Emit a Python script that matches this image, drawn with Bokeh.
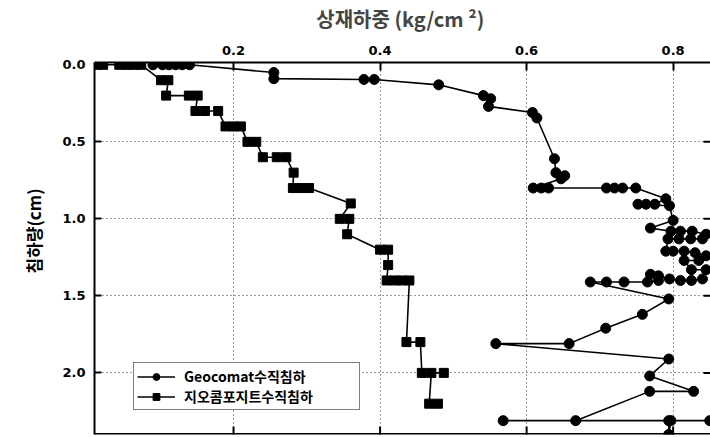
from bokeh.plotting import figure
from bokeh.models import Range1d, FixedTicker, Legend, LegendItem, NumeralTickFormatter, Span, Title
from bokeh.embed import file_html
from bokeh.resources import INLINE
import math

# Geocomat vertical settlement (load kg/cm2, settlement cm)
geo_load = [0.090, 0.103, 0.112, 0.121, 0.130, 0.140,
            0.255, 0.255, 0.378, 0.392, 0.480,
            0.541, 0.551, 0.548, 0.608, 0.614, 0.638,
            0.640, 0.652, 0.647,
            0.609, 0.620, 0.630, 0.709, 0.720, 0.731, 0.749,
            0.790, 0.775, 0.763, 0.752, 0.795,
            0.800, 0.769, 0.797, 0.810, 0.826, 0.845,
            0.840, 0.824, 0.808, 0.793,
            0.790, 0.800, 0.815, 0.830, 0.845,
            0.835, 0.815, 0.825, 0.845,
            0.840, 0.825, 0.810, 0.795, 0.780, 0.769, 0.780, 0.765,
            0.733, 0.709, 0.687,
            0.794, 0.758, 0.708, 0.658, 0.558,
            0.794, 0.768, 0.828, 0.768,
            0.667, 0.568, 0.794, 0.794, 0.797, 0.850]
geo_settle = [0.0, 0.0, 0.0, 0.0, 0.0, 0.0,
              0.05, 0.09, 0.095, 0.095, 0.13,
              0.20, 0.22, 0.27, 0.31, 0.345, 0.61,
              0.70, 0.72, 0.74,
              0.80, 0.80, 0.80, 0.80, 0.80, 0.80, 0.80,
              0.87, 0.905, 0.905, 0.905, 0.915,
              1.01, 1.06, 1.08, 1.08, 1.08, 1.10,
              1.13, 1.13, 1.13, 1.13,
              1.21, 1.21, 1.21, 1.22, 1.24,
              1.27, 1.27, 1.33, 1.33,
              1.39, 1.40, 1.40, 1.39, 1.37, 1.36, 1.40, 1.41,
              1.41, 1.41, 1.41,
              1.52, 1.62, 1.71, 1.81, 1.81,
              1.91, 2.02, 2.12, 2.12,
              2.31, 2.31, 2.31, 2.40, 2.31, 2.31]

# Geocomposite vertical settlement
comp_load = [0.014, 0.022, 0.044, 0.054, 0.064, 0.074,
             0.101, 0.111,
             0.108, 0.139, 0.151,
             0.148, 0.161, 0.179,
             0.189, 0.200, 0.210,
             0.219, 0.231,
             0.240, 0.259, 0.272,
             0.282,
             0.281, 0.292, 0.303,
             0.360,
             0.345, 0.358,
             0.355,
             0.400, 0.411,
             0.411,
             0.409, 0.420, 0.430, 0.440,
             0.436, 0.455,
             0.457, 0.487, 0.470,
             0.467, 0.479]
comp_settle = [0.0, 0.0, 0.0, 0.0, 0.0, 0.0,
               0.1, 0.1,
               0.2, 0.2, 0.2,
               0.3, 0.3, 0.3,
               0.4, 0.4, 0.4,
               0.5, 0.5,
               0.6, 0.6, 0.6,
               0.7,
               0.8, 0.8, 0.8,
               0.9,
               1.0, 1.0,
               1.1,
               1.2, 1.2,
               1.3,
               1.4, 1.4, 1.4, 1.4,
               1.8, 1.8,
               2.0, 2.0, 2.0,
               2.2, 2.2]

x_ticks = [0.2, 0.4, 0.6, 0.8]
y_ticks = [0.0, 0.5, 1.0, 1.5, 2.0]
series_names = ["Geocomat수직침하", "지오콤포지트수직침하"]
x_title = "상재하중 (kg/cm  ²)"
y_title = "침하량(cm)"

X_MIN, X_MAX = 0.0102, 0.851
Y_MIN, Y_MAX = -0.015, 2.40

TICK_FONT = "DejaVu Sans"
KR_FONT = "Noto Sans CJK KR"

p = figure(width=710, height=437, output_backend="svg", toolbar_location=None,
           x_range=Range1d(X_MIN, X_MAX), y_range=Range1d(Y_MAX, Y_MIN),
           x_axis_location="above",
           min_border_left=94, min_border_top=62, min_border_right=0, min_border_bottom=3)
p.outline_line_color = None
p.background_fill_color = "white"
p.border_fill_color = "white"

# top axis
xa = p.xaxis[0]
xa.ticker = FixedTicker(ticks=x_ticks)
xa.formatter = NumeralTickFormatter(format="0.0")
xa.major_tick_in = 8
xa.major_tick_out = 0
xa.minor_tick_in = 0
xa.minor_tick_out = 0
xa.axis_line_width = 2
xa.major_tick_line_width = 2
xa.major_label_standoff = 8
xa.major_label_text_font = TICK_FONT
xa.major_label_text_font_style = "bold"
xa.major_label_text_font_size = "13px"
xa.major_label_text_color = "black"
xa.axis_label = x_title
xa.axis_label_text_font = KR_FONT
xa.axis_label_text_font_style = "bold"
xa.axis_label_text_font_size = "20px"
xa.axis_label_standoff = 10

ya = p.yaxis[0]
ya.ticker = FixedTicker(ticks=y_ticks)
ya.formatter = NumeralTickFormatter(format="0.0")
ya.major_tick_in = 7
ya.major_tick_out = 0
ya.minor_tick_in = 0
ya.minor_tick_out = 0
ya.axis_line_width = 2
ya.major_tick_line_width = 2
ya.major_label_standoff = 9
ya.major_label_text_font = TICK_FONT
ya.major_label_text_font_style = "bold"
ya.major_label_text_font_size = "13px"
ya.major_label_text_color = "black"

# y title as a side title, placed above centre as in the reference
p.add_layout(Title(text=y_title, align="left", offset=161, standoff=28,
                   text_font=KR_FONT, text_font_style="bold", text_font_size="17px",
                   text_color="black"), "left")

p.xgrid.ticker = FixedTicker(ticks=x_ticks)
p.ygrid.ticker = FixedTicker(ticks=y_ticks[1:])
for g in (p.xgrid, p.ygrid):
    g.grid_line_color = "#333333"
    g.grid_line_dash = "1 3"
    g.grid_line_width = 1

# bottom frame line and inward ticks on bottom / right edges (labels cut off in reference)
p.add_layout(Span(location=Y_MAX, dimension="width", line_color="black", line_width=3))
p.scatter(x_ticks, [Y_MAX] * len(x_ticks), marker="dash", angle=math.pi / 2, size=16,
          line_color="black", line_width=2)
p.scatter([X_MAX] * (len(y_ticks) - 1), y_ticks[1:], marker="dash", size=14,
          line_color="black", line_width=2)

l1 = p.line(geo_load, geo_settle, line_color="black", line_width=1.6)
s1 = p.scatter(geo_load, geo_settle, marker="circle", size=10, fill_color="black", line_color="black")
l2 = p.line(comp_load, comp_settle, line_color="black", line_width=1.6)
s2 = p.scatter(comp_load, comp_settle, marker="square", size=9, fill_color="black", line_color="black")

legend = Legend(items=[LegendItem(label=series_names[0], renderers=[l1, s1]),
                       LegendItem(label=series_names[1], renderers=[l2, s2])],
                location=(39, 24))
legend.label_text_font = KR_FONT
legend.label_text_font_style = "bold"
legend.label_text_font_size = "14px"
legend.label_text_color = "black"
legend.glyph_width = 38
legend.glyph_height = 17
legend.label_height = 17
legend.label_width = 172
legend.label_standoff = 9
legend.spacing = 0
legend.padding = 3
legend.margin = 0
legend.border_line_color = "black"
legend.border_line_width = 1.5
legend.background_fill_alpha = 1
p.add_layout(legend)

open("out.html", "w").write(file_html(p, INLINE))
